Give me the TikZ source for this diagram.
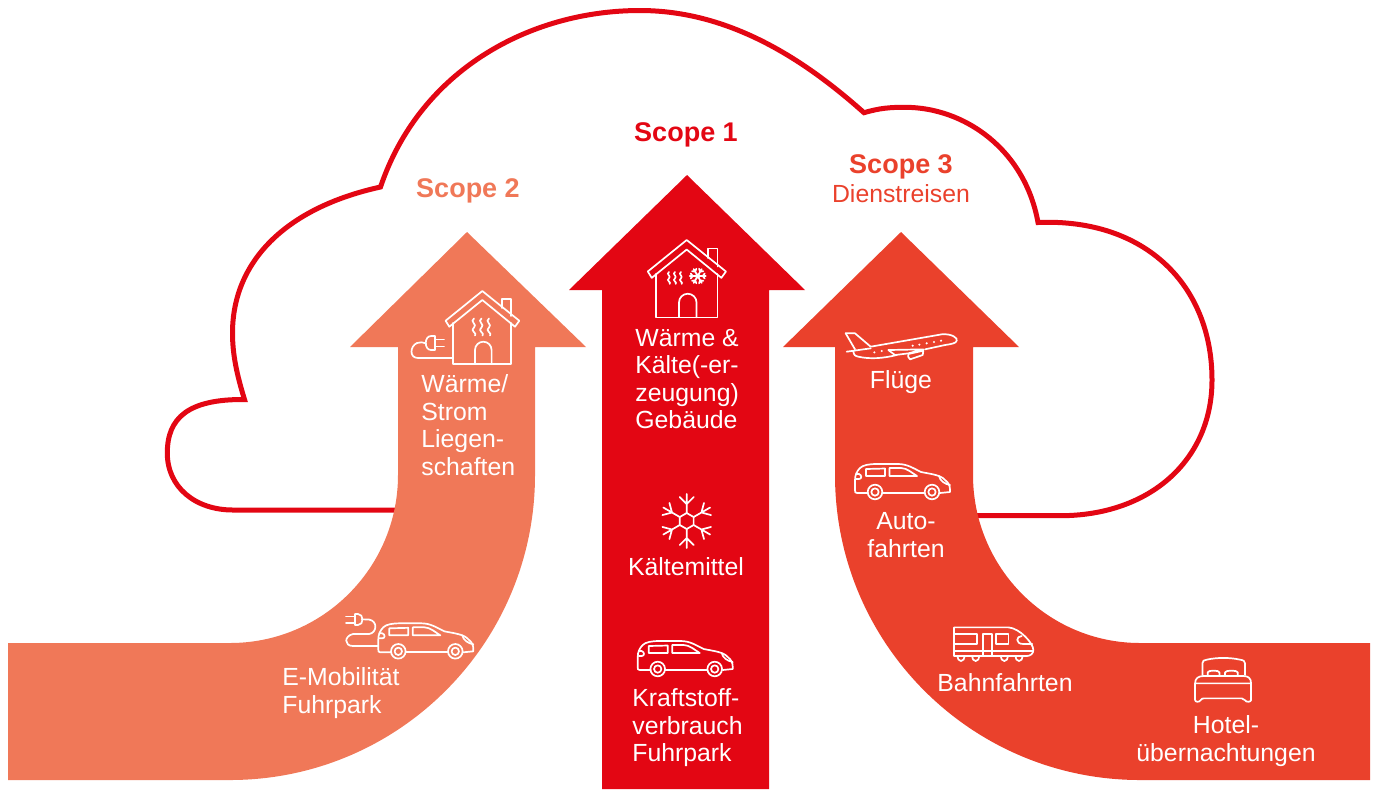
\documentclass[tikz,border=0pt]{standalone}
\usepackage{fontspec}
\setmainfont{Liberation Sans}
\definecolor{scopeone}{HTML}{E30613}
\definecolor{scopetwo}{HTML}{F07858}
\definecolor{scopethree}{HTML}{EA412C}
\tikzset{
  x=0.5pt,y=-0.5pt,
  icon/.style={draw=white,line width=0.85pt,line join=round,line cap=round},
  lbl/.style={text=white,font=\fontsize{12.4}{13.75}\selectfont,align=center,inner sep=0pt},
  head/.style={font=\fontsize{13.5}{15}\selectfont\bfseries,inner sep=0pt},
  carpic/.pic={
    \draw[icon] (13,0) -- (2,0) .. controls (0,0) and (0,-1) .. (0,-3) -- (0,-13)
      .. controls (0,-18) and (2,-22) .. (5,-25) .. controls (8,-28) and (14,-29) .. (22,-29)
      -- (43,-29) .. controls (52,-29) and (58,-25) .. (66,-21) .. controls (76,-19) and (86,-18) .. (90,-13)
      .. controls (94,-10) and (95,-7) .. (95,-3) -- (95,-1) -- (85,0);
    \draw[icon] (27.5,0) -- (69.5,0);
    \draw[icon] (20,-1) circle[radius=7.3] (20,-1) circle[radius=3.7];
    \draw[icon] (77,-1) circle[radius=7.3] (77,-1) circle[radius=3.7];
    \draw[icon] (11,-24) -- (30,-24.5) -- (30,-17) -- (11,-17) -- cycle;
    \draw[icon] (34.5,-25) -- (46,-25) .. controls (52,-25) and (57,-20) .. (62,-17) -- (34.5,-17) -- cycle;
    \draw[icon] (1,-19) -- (4,-19) .. controls (7,-18) and (7,-14) .. (4,-14) -- (1,-14);
    \draw[icon] (84,-17) .. controls (85,-12) and (90,-9) .. (95,-8);
  },
  housepic/.pic={
    \draw[icon] (0,0) -- (-36.7,29.7) -- (-33,35.7) -- (0,9) -- (32.7,35.7) -- (37,29.7) -- cycle;
    \draw[icon] (-29,32) -- (-29,73) -- (29,73) -- (29,32);
    \draw[icon] (20,17) -- (20,8) -- (29,8) -- (29,25);
    \draw[icon] (-7.3,73) -- (-7.3,59) arc[start angle=180,end angle=360,radius=8.3] -- (9.3,73);
  },
  wavepic/.pic={
    \draw[icon] (0,0) .. controls (-5,3) and (4,6) .. (0,9) .. controls (-5,12) and (4,15) .. (1,17);
  },
  flakepic/.pic={
    \foreach \a in {30,90,150,210,270,330}{
      \draw[icon,rotate=\a] (8,0) -- (27,0) (17,0) -- (24,7) (17,0) -- (24,-7);
    }
    \draw[icon] (90:8) -- (30:8) -- (-30:8) -- (-90:8) -- (-150:8) -- (150:8) -- cycle;
  },
  tinyflakepic/.pic={
    \foreach \a in {0,60,120}{
      \draw[icon,rotate=\a] (-8,0) -- (8,0) (-5,0) -- (-7,2.5) (-5,0) -- (-7,-2.5) (5,0) -- (7,2.5) (5,0) -- (7,-2.5);
    }
    \fill[white] (0,0) circle[radius=2.5];
  },
}
\begin{document}
\begin{tikzpicture}
\useasboundingbox (0,0) rectangle (1375,789);
% cloud
\draw[scopeone,line width=2.5pt,line join=miter] (398,510) -- (233,510)
  .. controls (195,510) and (167.3,487) .. (167.3,453)
  .. controls (167.3,418) and (188,399) .. (244.5,399.5)
  .. controls (237,375) and (232.5,355) .. (232.5,333)
  .. controls (232.5,262) and (285,208) .. (380.5,187)
  .. controls (420,70) and (530,10.5) .. (640,10.5)
  .. controls (730,10.5) and (805,60) .. (864,112.7)
  .. controls (880,108) and (890,107.3) .. (905,107.3)
  .. controls (965,107.3) and (1025,150) .. (1038,222.5)
  .. controls (1145,218) and (1212,285) .. (1212,380)
  .. controls (1212,460) and (1150,515.7) .. (1060,515.7) -- (973,515.7);
% arrows
\fill[scopeone] (687,175) -- (805,290) -- (769,290) -- (769,789) -- (602,789) -- (602,290) -- (569,290) -- cycle;
\fill[scopetwo] (467,232) -- (586,347) -- (535,347) -- (535,475)
  arc[start angle=0,end angle=90,radius=305]
  -- (8,780) -- (8,643) -- (230,643)
  arc[start angle=90,end angle=0,radius=168]
  -- (398,347) -- (350,347) -- cycle;
\fill[scopethree] (901,232) -- (1019,347) -- (973,347) -- (973,475)
  arc[start angle=180,end angle=90,x radius=167,y radius=168]
  -- (1370,643) -- (1370,780) -- (1140,780)
  arc[start angle=90,end angle=180,radius=305]
  -- (835,347) -- (783,347) -- cycle;
% headings
\node[head,text=scopeone] (s1) at (686,135) {Scope 1};
\node[head,text=scopetwo] (s2) at (468,191) {Scope 2};
\node[head,text=scopethree] (s3) at (901,167) {Scope 3};
\node[inner sep=0pt,text=scopethree,font=\fontsize{12.4}{13.75}\selectfont] (s3b) at (901,194) {Dienstreisen};
% labels
\node[lbl,align=left,anchor=west] (t1) at (421,425) {Wärme/\\Strom\\Liegen-\\schaften};
\node[lbl,align=left,anchor=west] (t2) at (282,693) {E-Mobilität\\Fuhrpark};
\node[lbl,align=left,anchor=west] (t3) at (635,379) {Wärme \&\\Kälte(-er-\\zeugung)\\Gebäude};
\node[lbl] (t4) at (686,567) {Kältemittel};
\node[lbl,align=left,anchor=west] (t5) at (632,728) {Kraftstoff-\\verbrauch\\Fuhrpark};
\node[lbl] (t6) at (901,382) {Flüge};
\node[lbl] (t7) at (906,535) {Auto-\\fahrten};
\node[lbl] (t8) at (1005,683) {Bahnfahrten};
\node[lbl] (t9) at (1226,741) {Hotel-\\übernachtungen};
% houses
\pic at (482.3,291) {housepic};
\foreach \px in {474,481.5,489}{ \pic at (\px,318.5) {wavepic}; }
\pic[scale=1.06] at (686.7,240) {housepic};
\foreach \px in {669,675,681}{ \pic[scale=.7] at (\px,272) {wavepic}; }
\pic at (697.7,276) {tinyflakepic};
% plug of the house
\draw[icon] (426,343.5) .. controls (422,342) and (420,342) .. (417,343) .. controls (410,346) and (409,358) .. (418,358) -- (452,358);
\draw[icon] (435,336) -- (431,336) .. controls (424,336) and (424,350) .. (431,350) -- (435,350) -- cycle;
\draw[icon] (435,339.5) -- (444,339.5) (435,346.5) -- (444,346.5);
% snowflake
\pic at (686.7,521) {flakepic};
% cars
\pic at (378.3,652.3) {carpic};
\pic at (637.7,670) {carpic};
\pic at (855,493) {carpic};
% car plug
\draw[icon] (355,614) -- (358,614) .. controls (364,614) and (364,625) .. (358,625) -- (355,625) -- cycle;
\draw[icon] (355,616.5) -- (346,616.5) (355,623) -- (346,623);
\draw[icon] (361.7,619.3) -- (369,619.5) .. controls (378,621) and (377,633) .. (369,634) -- (353,634) .. controls (344,636) and (344,646) .. (353,646) -- (378.3,646);
% plane
\begin{scope}[shift={(830,320)},x=0.1667pt,y=-0.1667pt]
\draw[icon] (47,40) -- (75,40) -- (122,80) -- (335,43) .. controls (365,40) and (385,55) .. (380,62) .. controls (378,70) and (365,72) .. (345,75) -- (285,88);
\draw[icon] (50,95) -- (122,85) (70,95) .. controls (72,105) and (75,108) .. (85,110) .. controls (120,118) and (160,115) .. (200,105);
\draw[icon] (47,40) -- (75,88);
\draw[icon] (175,90) -- (280,88) -- (235,100) -- (195,105) -- cycle;
\draw[icon] (235,102) -- (280,92) -- (278,105) -- (240,118) .. controls (235,115) and (233,108) .. (235,102);
\foreach \p/\q in {133/97,155/93,248/77,268/74,290/70,312/66,333/62}{\fill[white] (\p,\q) circle[radius=3.5];}
\end{scope}
% train
\begin{scope}[shift={(940,620)},x=0.1667pt,y=-0.1667pt]
\draw[icon] (42,22) -- (205,22) .. controls (240,25) and (280,70) .. (280,90) .. controls (280,100) and (272,108) .. (260,108) -- (42,108) -- cycle;
\draw[icon] (42,42) -- (110,42) -- (110,72) -- (42,72);
\draw[icon] (128,42) rectangle (155,108);
\draw[icon] (168,42) rectangle (205,72);
\draw[icon] (42,92) -- (278,92);
\draw[icon] (245,48) .. controls (228,48) and (225,72) .. (250,72) -- (277,72);
\foreach \p in {63,107,193,237}{\draw[icon] (\p-11,108) arc[start angle=180,end angle=360,x radius=11,y radius=-15];}
\end{scope}
% bed
\begin{scope}[shift={(940,620)},x=0.1667pt,y=-0.1667pt]
\draw[icon] (787,165) -- (787,130) .. controls (787,122) and (792,120) .. (800,119) .. controls (830,112) and (870,112) .. (900,119) .. controls (910,120) and (915,124) .. (915,130) -- (915,165);
\draw[icon] (803,165) -- (803,157) .. controls (803,150) and (838,150) .. (838,157) -- (838,165);
\draw[icon] (855,165) -- (855,157) .. controls (855,150) and (893,150) .. (893,157) -- (893,165);
\draw[icon] (765,190) .. controls (765,175) and (775,168) .. (790,168) -- (910,168) .. controls (925,168) and (933,175) .. (933,190) -- cycle;
\draw[icon] (765,190) -- (765,240) .. controls (765,246) and (778,248) .. (782,240) .. controls (784,236) and (788,235) .. (792,235) -- (905,235) .. controls (910,235) and (912,236) .. (914,240) .. controls (918,248) and (933,246) .. (933,240) -- (933,190);
\end{scope}
\end{tikzpicture}
\end{document}
